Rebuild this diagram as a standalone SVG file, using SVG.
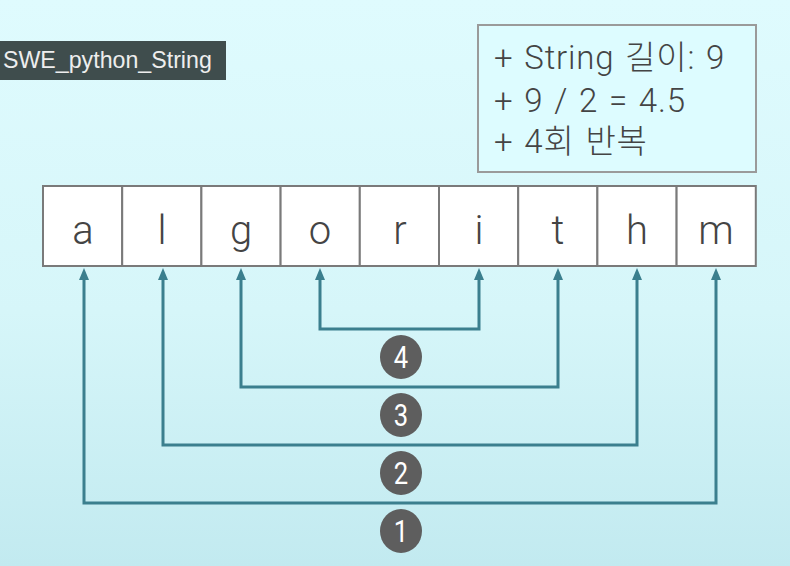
<svg xmlns="http://www.w3.org/2000/svg" width="790" height="566" viewBox="0 0 790 566">
<defs>
<linearGradient id="bg" x1="0" y1="0" x2="0" y2="1">
<stop offset="0" stop-color="#dffbfe"/>
<stop offset="0.55" stop-color="#d6f6f9"/>
<stop offset="1" stop-color="#c2eaf0"/>
</linearGradient>
<path id="ah" d="M-5,12 L0,0 L5,12 Z" fill="#3b7f8e"/>
<style>
.cell rect{fill:#ffffff;stroke:#7a7a7a;stroke-width:2}
.cell text{font-family:Roboto,"Liberation Sans",sans-serif;font-size:40px;fill:#444;text-anchor:middle;font-weight:300}
.conn path{fill:none;stroke:#3b7f8e;stroke-width:3}
.badge ellipse{fill:#5e5e5e}
.badge text{font-family:Roboto,"Liberation Sans",sans-serif;font-size:32px;fill:#fff;text-anchor:middle}
.info{font-family:Roboto,"Noto Sans CJK KR",sans-serif;font-size:33px;font-weight:300;fill:#444;letter-spacing:0.8px;word-spacing:2px}
</style>
</defs>
<rect width="790" height="566" fill="url(#bg)"/>
<g id="title">
<rect x="0" y="41" width="226" height="39" fill="#3f4d4d"/>
<text x="3" y="68" font-family="'Liberation Sans',Arial,sans-serif" font-size="23.2" fill="#eeeeee">SWE_python_String</text>
</g>
<g id="info">
<rect x="478" y="25" width="278" height="147" fill="#ddfcff" stroke="#9a9a9a" stroke-width="2"/>
<text class="info" x="494" y="69">+ String 길이: 9</text>
<text class="info" x="494" y="112">+ 9 / 2 = 4.5</text>
<text class="info" x="494" y="153">+ 4회 반복</text>
</g>
<g id="cells" class="cell">
<g id="c0"><rect x="43" y="186" width="79.2" height="80"/><text x="83" y="244">a</text></g>
<g id="c1"><rect x="122.2" y="186" width="79.2" height="80"/><text x="162" y="244">l</text></g>
<g id="c2"><rect x="201.4" y="186" width="79.2" height="80"/><text x="241" y="244">g</text></g>
<g id="c3"><rect x="280.6" y="186" width="79.2" height="80"/><text x="320" y="244">o</text></g>
<g id="c4"><rect x="359.8" y="186" width="79.2" height="80"/><text x="400" y="244">r</text></g>
<g id="c5"><rect x="439" y="186" width="79.2" height="80"/><text x="479" y="244">i</text></g>
<g id="c6"><rect x="518.2" y="186" width="79.2" height="80"/><text x="558" y="244">t</text></g>
<g id="c7"><rect x="597.4" y="186" width="79.2" height="80"/><text x="637" y="244">h</text></g>
<g id="c8"><rect x="676.6" y="186" width="79.2" height="80"/><text x="716" y="244">m</text></g>
</g>
<g id="connectors" class="conn">
<path d="M84,278 V503 H716 V278"/>
<path d="M163,278 V445 H637 V278"/>
<path d="M241,278 V387 H558 V278"/>
<path d="M320,278 V329 H479 V278"/>
<use href="#ah" x="84" y="268"/><use href="#ah" x="716" y="268"/>
<use href="#ah" x="163" y="268"/><use href="#ah" x="637" y="268"/>
<use href="#ah" x="241" y="268"/><use href="#ah" x="558" y="268"/>
<use href="#ah" x="320" y="268"/><use href="#ah" x="479" y="268"/>
</g>
<g id="b4" class="badge"><ellipse cx="401" cy="357" rx="21" ry="22"/><text x="401" y="368.5" transform="translate(401 0) scale(0.8 1) translate(-401 0)">4</text></g>
<g id="b3" class="badge"><ellipse cx="401" cy="415" rx="21" ry="22"/><text x="401" y="426.5" transform="translate(401 0) scale(0.8 1) translate(-401 0)">3</text></g>
<g id="b2" class="badge"><ellipse cx="401" cy="473" rx="21" ry="22"/><text x="401" y="484.5" transform="translate(401 0) scale(0.8 1) translate(-401 0)">2</text></g>
<g id="b1" class="badge"><ellipse cx="401" cy="531" rx="21" ry="22"/><text x="401" y="542.5" transform="translate(401 0) scale(0.8 1) translate(-401 0)">1</text></g>
</svg>
